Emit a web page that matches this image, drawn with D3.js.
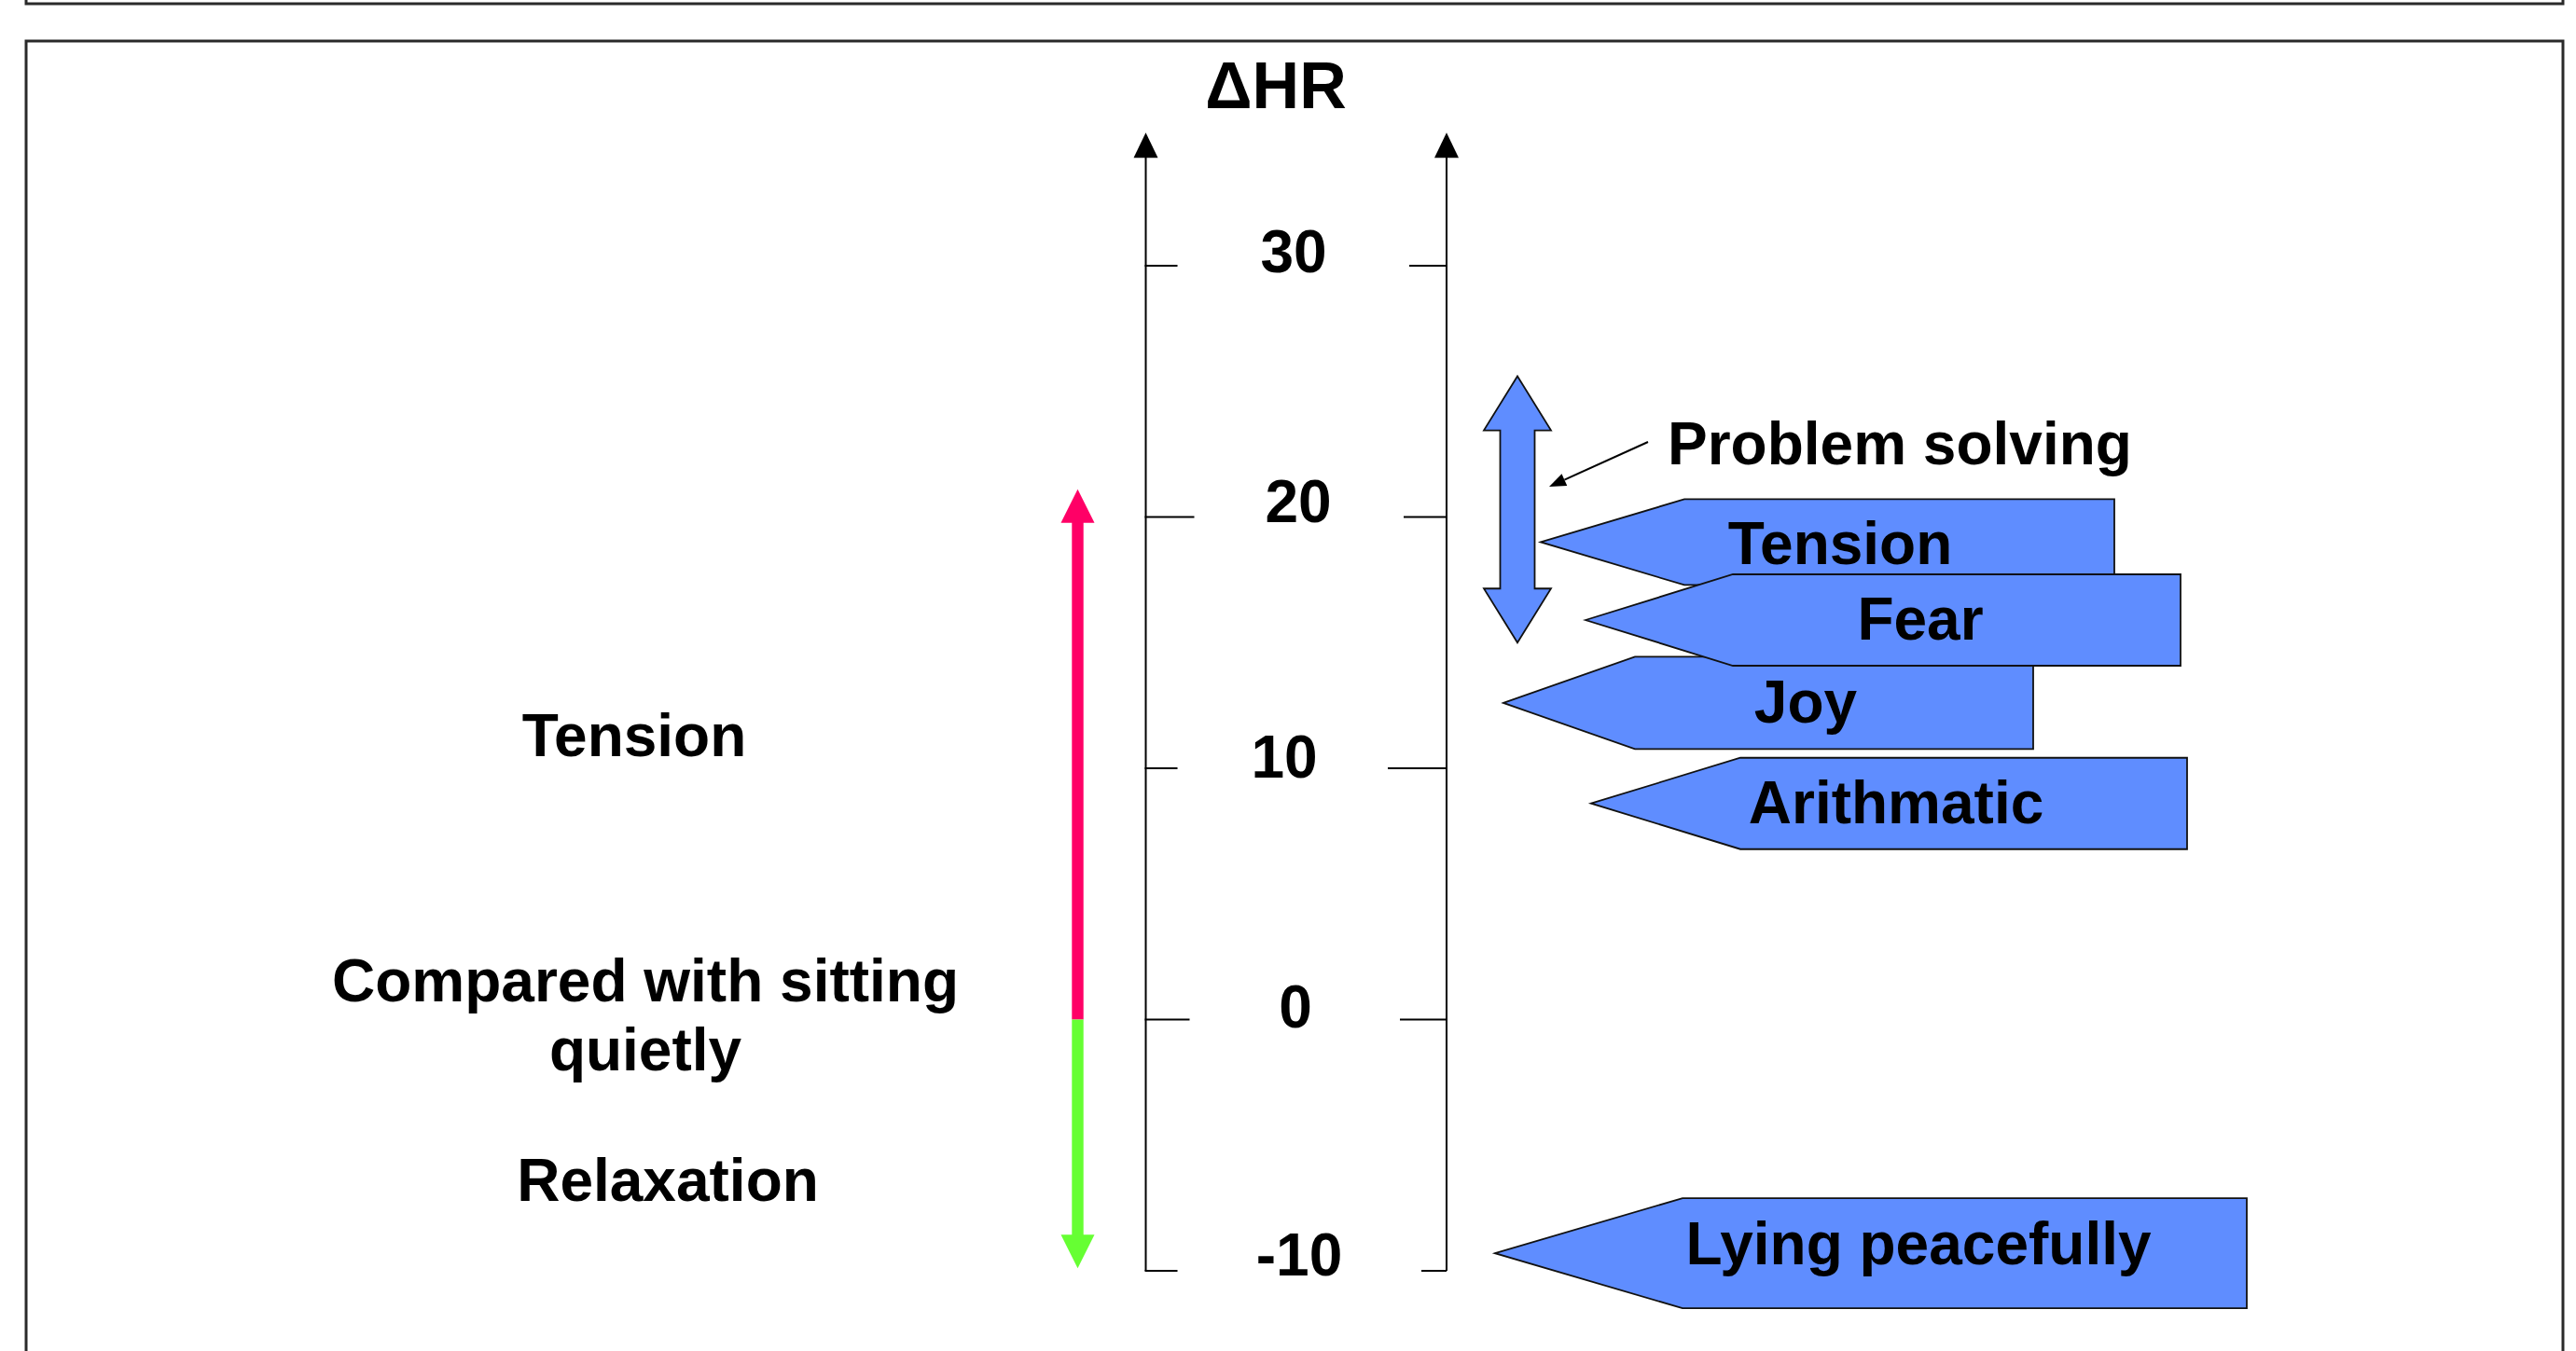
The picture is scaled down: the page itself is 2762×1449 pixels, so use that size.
<!DOCTYPE html>
<html><head><meta charset="utf-8">
<script src="https://cdn.jsdelivr.net/npm/d3@7"></script>
<style>html,body{margin:0;padding:0;background:#fff;} svg{display:block;}</style>
</head><body>
<svg id="chart" width="2762" height="1449"></svg>
<script>
// ---------- data ----------
const tickValues = [-10, 0, 10, 20, 30];
const tickLabels = ["-10", "0", "10", "20", "30"];
const axisTitle = "ΔHR";
const activities = ["Tension", "Fear", "Joy", "Arithmatic", "Lying peacefully"];
const deltaHR = [19.0, 15.9, 12.6, 8.6, -9.3];
const problemSolvingLabel = "Problem solving";
const problemSolvingRange = [15.0, 25.6];
const tensionArrowRange = [0, 21.1];
const relaxationArrowRange = [0, -9.9];
const sideLabels = ["Tension", "Compared with sitting", "quietly", "Relaxation"];

// ---------- layout / style ----------
const W = 2762, H = 1449;
const FONT = "'Liberation Sans', Arial, Helvetica, sans-serif";
const FS = 64;
const BLUE = "#5f8dff";
const svg = d3.select("#chart");
const y = d3.scaleLinear().domain([-10, 30]).range([1363, 285]);

const axisX = [1228.5, 1551];
const axisTopValue = 35.3;
const leftTickLen = [34, 47, 34, 52, 34];
const rightTickLen = [27, 50, 63, 46, 40];
const tickLabelX = 1388;
const tickLabelDx = [5, 1, -11, 4, -1];
const tickLabelDy = [5, 8, 10, 5, 7];

// callout geometry (index matches activities)
const callout = [
  {tipX: 1652, shoulderX: 1806, rightX: 2267, halfH: 46, textX: 1973, dy: 24},
  {tipX: 1700, shoulderX: 1858, rightX: 2338, halfH: 49, textX: 2059, dy: 21},
  {tipX: 1612, shoulderX: 1753, rightX: 2180, halfH: 49.5, textX: 1936, dy: 21},
  {tipX: 1706, shoulderX: 1866, rightX: 2345, halfH: 49, textX: 2033, dy: 21},
  {tipX: 1603, shoulderX: 1804, rightX: 2409, halfH: 59, textX: 2057, dy: 12}
];
const drawOrder = [0, 2, 3, 4, 1];

// ---------- frames ----------
const frame = svg.append("g").attr("fill", "none").attr("stroke", "#2a2a2a").attr("stroke-width", 3);
frame.append("path").attr("d", `M28,-5 L28,4 L2748,4 L2748,-5`);
frame.append("path").attr("d", `M28,${H + 5} L28,44 L2748,44 L2748,${H + 5}`);

// ---------- axes ----------
const axG = svg.append("g");
axisX.forEach(ax => {
  const tipY = y(axisTopValue);
  axG.append("line").attr("x1", ax).attr("x2", ax)
    .attr("y1", tipY + 20).attr("y2", y(-10))
    .attr("stroke", "#000").attr("stroke-width", 2);
  axG.append("path")
    .attr("d", `M${ax},${tipY} L${ax - 13},${tipY + 27} L${ax + 13},${tipY + 27} Z`)
    .attr("fill", "#000");
});
tickValues.forEach((v, i) => {
  axG.append("line").attr("x1", axisX[0] - 1).attr("x2", axisX[0] + leftTickLen[i])
    .attr("y1", y(v)).attr("y2", y(v)).attr("stroke", "#000").attr("stroke-width", 2);
  axG.append("line").attr("x1", axisX[1] - rightTickLen[i]).attr("x2", axisX[1])
    .attr("y1", y(v)).attr("y2", y(v)).attr("stroke", "#000").attr("stroke-width", 2);
  axG.append("text").attr("x", tickLabelX + tickLabelDx[i]).attr("y", y(v) + tickLabelDy[i])
    .attr("text-anchor", "middle").attr("font-family", FONT).attr("font-weight", "bold")
    .attr("font-size", FS).attr("fill", "#000").text(tickLabels[i]);
});
svg.append("text").attr("x", 1368).attr("y", 116).attr("text-anchor", "middle")
  .attr("font-family", FONT).attr("font-weight", "bold").attr("font-size", 70)
  .attr("fill", "#000").text(axisTitle);

// ---------- tension / relaxation arrow ----------
function vArrow(g, x, v0, v1, color, shaftHalf, headHalf, headLen) {
  const y0 = y(v0), y1 = y(v1);
  const dir = y1 < y0 ? -1 : 1;
  const yb = y1 - dir * headLen;
  g.append("path")
    .attr("d", `M${x - shaftHalf},${y0} L${x - shaftHalf},${yb} L${x - headHalf},${yb} L${x},${y1} L${x + headHalf},${yb} L${x + shaftHalf},${yb} L${x + shaftHalf},${y0} Z`)
    .attr("fill", color);
}
const arrG = svg.append("g");
vArrow(arrG, 1155.5, tensionArrowRange[0], tensionArrowRange[1], "#ff0066", 6.2, 18, 36);
vArrow(arrG, 1155.5, relaxationArrowRange[0], relaxationArrowRange[1], "#66ff33", 6.2, 18, 36);

// side labels
const sideLayout = [
  {x: 680, y: 811},
  {x: 692, y: 1074},
  {x: 692, y: 1148},
  {x: 716, y: 1288}
];
svg.append("g").selectAll("text").data(sideLabels).join("text")
  .attr("x", (d, i) => sideLayout[i].x).attr("y", (d, i) => sideLayout[i].y)
  .attr("text-anchor", "middle").attr("font-family", FONT).attr("font-weight", "bold")
  .attr("font-size", FS).attr("fill", "#000").text(d => d);

// ---------- problem solving double arrow ----------
(function () {
  const cx = 1627, sh = 18.5, hh = 36, hl = 58;
  const yt = y(problemSolvingRange[1]), yb = y(problemSolvingRange[0]);
  svg.append("path")
    .attr("d", `M${cx},${yt} L${cx + hh},${yt + hl} L${cx + sh},${yt + hl} L${cx + sh},${yb - hl} L${cx + hh},${yb - hl} L${cx},${yb} L${cx - hh},${yb - hl} L${cx - sh},${yb - hl} L${cx - sh},${yt + hl} L${cx - hh},${yt + hl} Z`)
    .attr("fill", BLUE).attr("stroke", "#111").attr("stroke-width", 1.8).attr("stroke-linejoin", "miter");
  // pointer
  const x1 = 1767, y1 = 474, x2 = 1661, y2 = 522;
  const ang = Math.atan2(y2 - y1, x2 - x1);
  const L = 18, Wd = 7;
  const bx = x2 - L * Math.cos(ang), by = y2 - L * Math.sin(ang);
  svg.append("line").attr("x1", x1).attr("y1", y1).attr("x2", bx).attr("y2", by)
    .attr("stroke", "#000").attr("stroke-width", 2);
  svg.append("path")
    .attr("d", `M${x2},${y2} L${bx + Wd * Math.sin(ang)},${by - Wd * Math.cos(ang)} L${bx - Wd * Math.sin(ang)},${by + Wd * Math.cos(ang)} Z`)
    .attr("fill", "#000");
  svg.append("text").attr("x", 1788).attr("y", 498)
    .attr("font-family", FONT).attr("font-weight", "bold").attr("font-size", FS)
    .attr("fill", "#000").text(problemSolvingLabel);
})();

// ---------- activity callouts ----------
const cG = svg.append("g");
drawOrder.forEach(i => {
  const c = callout[i];
  const ty = y(deltaHR[i]);
  const g = cG.append("g");
  g.append("path")
    .attr("d", `M${c.tipX},${ty} L${c.shoulderX},${ty - c.halfH} L${c.rightX},${ty - c.halfH} L${c.rightX},${ty + c.halfH} L${c.shoulderX},${ty + c.halfH} Z`)
    .attr("fill", BLUE).attr("stroke", "#111").attr("stroke-width", 1.8);
  g.append("text").attr("x", c.textX).attr("y", ty + c.dy)
    .attr("text-anchor", "middle").attr("font-family", FONT).attr("font-weight", "bold")
    .attr("font-size", FS).attr("fill", "#000").text(activities[i]);
});
</script>
</body></html>
